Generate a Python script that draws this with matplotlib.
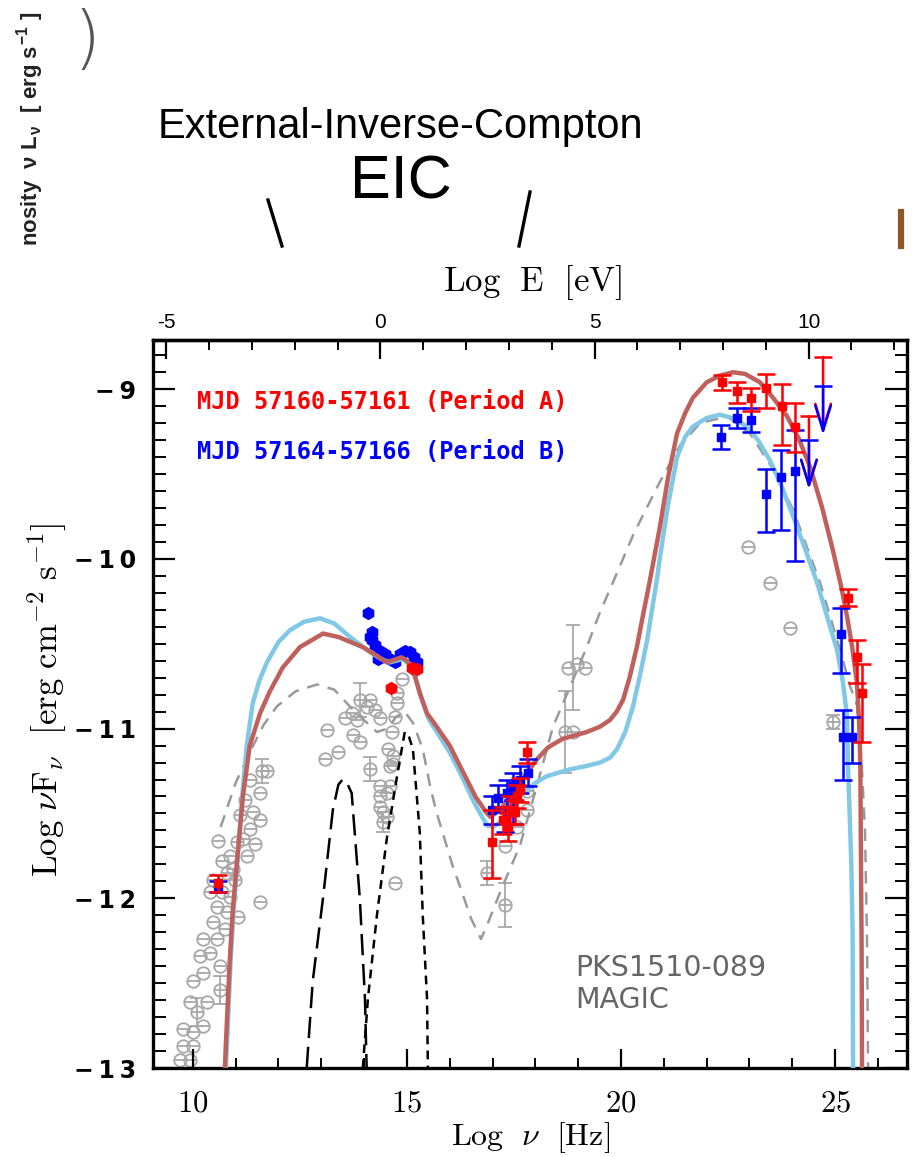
import numpy as np
import matplotlib
matplotlib.use('Agg')
import matplotlib.pyplot as plt
from matplotlib.lines import Line2D
from matplotlib.ticker import MultipleLocator, FixedLocator, FuncFormatter

plt.rcParams['mathtext.fontset'] = 'cm'

# ---------------- data ----------------
# model curves (log nu, log nuFnu)
red_model_x = [10.75, 10.77, 10.86, 10.93, 11.03, 11.17, 11.33, 11.57, 11.8, 12.10, 12.5, 13.04, 13.4, 13.97,
               14.3, 14.53, 14.75, 14.88, 15.0, 15.14, 15.30, 15.47, 15.70, 16.0, 16.24, 16.6, 16.87, 16.95,
               17.2, 17.48, 17.75, 18.04, 18.3, 18.64, 19.2, 19.5, 19.74, 19.9, 20.05, 20.2, 20.37, 20.5,
               20.68, 20.91, 21.1, 21.31, 21.5, 21.68, 22.0, 22.3, 22.62, 22.9, 23.25, 23.55, 23.88, 24.15,
               24.42, 24.7, 24.95, 25.15, 25.28, 25.40, 25.51, 25.56, 25.59, 25.60, 25.62, 25.63]
red_model_y = [-13.0, -12.87, -12.38, -12.08, -11.79, -11.40, -11.10, -10.91, -10.78, -10.64, -10.52, -10.44,
               -10.46, -10.52, -10.57, -10.61, -10.59, -10.58, -10.60, -10.65, -10.79, -10.91, -10.99, -11.10,
               -11.22, -11.40, -11.50, -11.52, -11.47, -11.38, -11.28, -11.18, -11.11, -11.06, -11.02, -10.99,
               -10.95, -10.90, -10.83, -10.70, -10.52, -10.35, -10.12, -9.81, -9.52, -9.26, -9.14, -9.05,
               -8.96, -8.92, -8.90, -8.91, -8.96, -9.05, -9.16, -9.29, -9.46, -9.70, -9.95, -10.17, -10.34,
               -10.52, -10.73, -10.95, -11.2, -11.6, -12.3, -13.0]

blue_model_x = [10.77, 10.80, 10.88, 10.95, 11.05, 11.17, 11.26, 11.40, 11.55, 11.73, 12.0, 12.27, 12.6, 12.97,
                13.3, 13.67, 14.14, 14.4, 14.6, 14.75, 14.9, 15.05, 15.2, 15.35, 15.5, 15.70, 16.0, 16.24, 16.6,
                16.87, 17.0, 17.24, 17.64, 18.0, 18.27, 18.81, 19.2, 19.51, 19.75, 19.91, 20.1, 20.28, 20.45,
                20.61, 20.84, 20.91, 21.1, 21.31, 21.5, 21.68, 22.0, 22.31, 22.6, 22.94, 23.2, 23.48, 23.75,
                24.02, 24.3, 24.58, 24.85, 25.05, 25.18, 25.28, 25.30, 25.33, 25.38, 25.41, 25.42]
blue_model_y = [-13.0, -12.85, -12.38, -12.08, -11.75, -11.35, -11.10, -10.85, -10.72, -10.61, -10.49, -10.42,
                -10.37, -10.35, -10.38, -10.46, -10.55, -10.59, -10.61, -10.60, -10.59, -10.62, -10.70, -10.83,
                -10.94, -11.02, -11.14, -11.26, -11.45, -11.57, -11.58, -11.54, -11.40, -11.32, -11.28, -11.24,
                -11.22, -11.20, -11.17, -11.12, -11.02, -10.87, -10.68, -10.48, -10.12, -9.99, -9.68, -9.40,
                -9.28, -9.22, -9.17, -9.15, -9.17, -9.22, -9.30, -9.42, -9.57, -9.75, -9.94, -10.14, -10.37,
                -10.54, -10.72, -10.93, -11.20, -11.42, -11.8, -12.2, -13.0]

gray_model_x = [10.65, 11.0, 11.33, 11.65, 11.96, 12.4, 12.9, 13.3, 13.67, 14.0, 14.3, 14.55, 14.75, 14.95,
                15.15, 15.37, 15.55, 15.70, 16.07, 16.24, 16.5, 16.73, 16.87, 17.2, 17.64, 18.0, 18.41, 18.8,
                19.2, 19.5, 19.81, 20.3, 20.9, 21.38, 21.85, 22.48, 23.01, 23.55, 24.02, 24.65, 25.12, 25.35,
                25.51, 25.62, 25.70, 25.75, 25.77]
gray_model_y = [-11.58, -11.32, -11.14, -10.98, -10.87, -10.78, -10.74, -10.77, -10.87, -10.95, -11.02, -11.0,
                -10.93, -10.90, -10.97, -11.12, -11.35, -11.50, -11.81, -11.93, -12.12, -12.24, -12.16, -11.95,
                -11.69, -11.37, -10.99, -10.76, -10.52, -10.32, -10.14, -9.85, -9.55, -9.33, -9.20, -9.16,
                -9.26, -9.47, -9.71, -10.14, -10.54, -10.75, -10.86, -11.2, -11.61, -12.3, -13.0]

ext_x = [12.66, 12.8, 13.04, 13.27, 13.40, 13.50, 13.60, 13.71, 13.9, 14.02, 14.06]
ext_y = [-13.0, -12.49, -12.0, -11.48, -11.33, -11.30, -11.32, -11.38, -12.0, -12.59, -13.0]

disk_x = [13.97, 14.09, 14.3, 14.53, 14.77, 14.95, 15.05, 15.14, 15.30, 15.37, 15.47, 15.49]
disk_y = [-13.0, -12.59, -12.10, -11.65, -11.28, -11.02, -11.05, -11.12, -11.61, -12.10, -12.59, -13.0]

# archival (gray) data
arch_x = [10.58, 10.68, 11.57, 11.61, 11.73, 11.33, 11.57, 11.40, 11.57, 11.33, 11.17, 11.03, 11.26, 10.86,
          10.93, 10.79, 10.68, 10.40, 10.86, 10.56, 10.79, 10.47, 11.05, 10.23, 10.56, 10.40, 10.16, 10.63,
          10.23, 10.63, 10.0, 9.93, 10.33, 10.09, 10.23, 9.77, 10.0, 10.0, 9.77, 9.70, 9.93, 11.21, 11.10,
          11.45, 10.98, 10.47, 10.75,
          13.13, 13.08, 13.39, 13.55, 13.71, 13.83, 13.74, 13.90, 13.90, 14.07, 14.14, 14.25, 14.37, 14.14,
          14.37, 14.37, 14.44, 14.53, 14.60, 14.56, 14.72, 14.77, 14.77, 14.88, 14.65, 14.67, 14.60, 14.72,
          14.44, 14.37, 14.53, 14.67,
          18.76, 18.97, 19.16, 18.69, 18.88, 17.80, 17.80, 17.57, 17.29, 16.87, 17.29,
          22.97, 23.48, 23.95, 24.95]
arch_y = [-11.66, -11.78, -12.02, -11.25, -11.25, -11.30, -11.38, -11.49, -11.54, -11.59, -11.65, -11.67,
          -11.75, -11.75, -11.83, -11.85, -11.96, -11.96, -11.99, -12.05, -12.08, -12.14, -12.11, -12.24,
          -12.24, -12.32, -12.34, -12.40, -12.44, -12.54, -12.49, -12.61, -12.61, -12.67, -12.75, -12.77,
          -12.79, -12.87, -12.87, -12.95, -12.95, -11.42, -11.51, -11.68, -11.89, -11.89, -12.18,
          -11.01, -11.18, -11.14, -10.94, -10.91, -10.95, -11.04, -11.08, -10.83, -10.87, -10.83, -10.89,
          -10.94, -11.24, -11.34, -11.46, -11.49, -11.38, -11.22, -11.12, -10.93, -10.85, -10.79, -10.71,
          -11.02, -11.16, -11.34, -11.91, -11.55, -11.40, -11.52, -11.21,
          -10.64, -10.62, -10.64, -11.02, -11.02, -11.37, -11.48, -11.58, -11.69, -11.85, -12.04,
          -9.93, -10.14, -10.41, -10.96]
arch_eb_x = [11.61, 10.63, 10.09, 13.90, 14.14, 14.44, 18.88, 18.69, 16.87, 17.29, 24.95]
arch_eb_y = [-11.25, -12.54, -12.67, -10.83, -11.24, -11.55, -10.64, -11.02, -11.85, -12.04, -10.96]
arch_eb_err = [0.07, 0.08, 0.08, 0.10, 0.07, 0.06, 0.25, 0.24, 0.07, 0.13, 0.04]

# Period A (red)
redA_x = [10.58, 16.99, 17.80, 17.24, 17.41, 17.57, 17.64, 17.36, 17.52,
          22.36, 22.71, 23.04, 23.39, 23.76, 24.07, 25.30, 25.51, 25.63]
redA_y = [-11.91, -11.67, -11.14, -11.54, -11.48, -11.40, -11.36, -11.58, -11.49,
          -8.96, -9.01, -9.05, -8.99, -9.10, -9.22, -10.23, -10.58, -10.79]
redA_lo = [0.05, 0.21, 0.06, 0.08, 0.08, 0.07, 0.07, 0.08, 0.07,
           0.045, 0.07, 0.08, 0.12, 0.23, 0.15, 0.05, 0.15, 0.29]
redA_hi = [0.05, 0.19, 0.06, 0.08, 0.08, 0.07, 0.07, 0.08, 0.07,
           0.045, 0.05, 0.06, 0.08, 0.13, 0.14, 0.05, 0.10, 0.17]
redA_opt_x = [14.63, 15.12, 15.23]
redA_opt_y = [-10.76, -10.64, -10.65]
redA_ul_x = [24.72, 24.39]
redA_ul_y = [-8.81, -9.16]
redA_ul_len = [0.45, 0.43]

# Period B (blue)
bluB_x = [10.58, 16.99, 17.13, 17.34, 17.48, 17.64, 17.83, 17.48, 17.29,
          22.34, 22.71, 23.04, 23.39, 23.74, 24.07, 25.14, 25.19, 25.40]
bluB_y = [-11.93, -11.48, -11.41, -11.38, -11.34, -11.30, -11.26, -11.49, -11.54,
          -9.28, -9.17, -9.18, -9.62, -9.52, -9.48, -10.44, -11.05, -11.05]
bluB_lo = [0.03, 0.08, 0.08, 0.08, 0.08, 0.08, 0.08, 0.07, 0.07,
           0.07, 0.06, 0.07, 0.22, 0.31, 0.53, 0.23, 0.25, 0.15]
bluB_hi = [0.03, 0.08, 0.08, 0.08, 0.08, 0.08, 0.08, 0.07, 0.07,
           0.07, 0.06, 0.07, 0.15, 0.16, 0.24, 0.15, 0.16, 0.12]
bluB_opt_x = [14.09, 14.14, 14.18, 14.25, 14.37, 14.49, 14.60, 14.72, 14.84, 14.95, 15.07, 15.16, 15.23,
              14.18, 14.32]
bluB_opt_y = [-10.32, -10.46, -10.48, -10.51, -10.54, -10.56, -10.59, -10.61, -10.56, -10.54, -10.55,
              -10.58, -10.61, -10.43, -10.59]
bluB_ul_x = [24.72, 24.39]
bluB_ul_y = [-8.98, -9.30]
bluB_ul_len = [0.29, 0.29]

yticks_main = [-13, -12, -11, -10, -9]
xticks_main = [10, 15, 20, 25]
eticks = [-5, 0, 5, 10]
LOG_H_EV = 14.383  # log nu [Hz] - log E [eV]

legend_A = "MJD 57160-57161 (Period A)"
legend_B = "MJD 57164-57166 (Period B)"

# ---------------- figure ----------------
W, H = 919, 1157
fig = plt.figure(figsize=(W / 100, H / 100), dpi=100)


def fx(px):
    return px / W


def fy(py):
    return 1 - py / H


ax = fig.add_axes([fx(153), fy(1068), (907 - 153) / W, (1068 - 340) / H])
ax.set_xlim(9.07, 26.68)
ax.set_ylim(-13.0, -8.71)

GRAY = '#a8a8a8'
RED_M = '#c0605c'
BLUE_M = '#80c8e6'

# archival data
ax.errorbar(arch_eb_x, arch_eb_y, yerr=arch_eb_err, fmt='none', ecolor=GRAY, elinewidth=1.3,
            capsize=5, capthick=1.3, zorder=1)
ax.plot(arch_x, arch_y, 'o', ms=9, mfc='none', mec=GRAY, mew=1.3, zorder=1)
ax.plot(arch_x, arch_y, '_', ms=9, mec=GRAY, mew=1.3, zorder=1)

# model components
ax.plot(gray_model_x, gray_model_y, color='#9a9a9a', lw=1.8, ls=(0, (5, 3.5)), zorder=2)
ax.plot(ext_x, ext_y, color='k', lw=1.8, ls=(0, (8.5, 3.5)), zorder=2)
ax.plot(disk_x, disk_y, color='k', lw=1.8, ls=(0, (3.5, 2.5)), zorder=2)

# optical blue points (under the curves)
ax.plot(bluB_opt_x, bluB_opt_y, 'h', ms=8.5, color='#0000ff', zorder=2.5)

ax.plot(blue_model_x, blue_model_y, color=BLUE_M, lw=3.2, zorder=3, solid_capstyle='butt')
ax.plot(red_model_x, red_model_y, color=RED_M, lw=3.2, zorder=3.1, solid_capstyle='butt')

# period data
ax.errorbar(bluB_x, bluB_y, yerr=[bluB_lo, bluB_hi], fmt='s', ms=6, color='#0000ff', ecolor='#0000ff',
            elinewidth=1.8, capsize=6.5, capthick=1.8, zorder=4)
ax.errorbar(redA_x, redA_y, yerr=[redA_lo, redA_hi], fmt='s', ms=6, color='#ff0000', ecolor='#ff0000',
            elinewidth=1.8, capsize=6.5, capthick=1.8, zorder=4.1)
ax.plot(redA_opt_x, redA_opt_y, 'h', ms=8.5, color='#ff0000', zorder=4)

for xs, ys, ls_, col in [(redA_ul_x, redA_ul_y, redA_ul_len, '#ff0000'),
                         (bluB_ul_x, bluB_ul_y, bluB_ul_len, '#0000ff')]:
    ax.plot(xs, ys, '_', ms=13, mew=1.8, color=col, zorder=4)
    for x0, y0, L in zip(xs, ys, ls_):
        ax.annotate('', xy=(x0, y0 - L), xytext=(x0, y0),
                    arrowprops=dict(arrowstyle='->,head_length=1.3,head_width=0.4', mutation_scale=14,
                                    lw=1.8, color=col, shrinkA=0, shrinkB=0), zorder=4)

# ticks
ax.set_xticks(xticks_main)
ax.xaxis.set_minor_locator(MultipleLocator(1))
ax.set_yticks(yticks_main)
ax.yaxis.set_minor_locator(MultipleLocator(0.1))
ax.tick_params(axis='y', which='major', direction='in', length=16, width=1.6, right=True, left=True, pad=12)
ax.tick_params(axis='y', which='minor', direction='in', length=9, width=1.4, right=True, left=True)
ax.tick_params(axis='x', which='major', direction='in', length=14, width=1.6, top=False, bottom=True, pad=15)
ax.tick_params(axis='x', which='minor', direction='in', length=7, width=1.4, top=False, bottom=True)
for s in ax.spines.values():
    s.set_linewidth(2.4)

ax.yaxis.set_major_formatter(FuncFormatter(
    lambda v, p: '\u2212\u2009' + '\u2009'.join(str(abs(int(round(v)))))))
ax.xaxis.set_major_formatter(FuncFormatter(lambda v, p: r'$\mathrm{%d}$' % int(round(v))))
for lab in ax.get_yticklabels():
    lab.set_fontfamily('DejaVu Sans')
    lab.set_fontweight('bold')
    lab.set_fontsize(17)
for lab in ax.get_xticklabels():
    lab.set_fontsize(22)

sec = ax.secondary_xaxis('top', functions=(lambda x: x - LOG_H_EV, lambda e: e + LOG_H_EV))
sec.set_xticks(eticks)
sec.xaxis.set_minor_locator(MultipleLocator(1))
sec.tick_params(which='major', direction='in', length=14, width=1.6, pad=6, labelsize=15)
sec.tick_params(which='minor', direction='in', length=7, width=1.4)
sec.xaxis.set_major_formatter(FuncFormatter(lambda v, p: '%d' % int(round(v))))
for lab in sec.get_xticklabels():
    lab.set_fontfamily('Liberation Sans')
sec.spines['top'].set_linewidth(2.4)

# axis labels
fig.text(fx(531), fy(1138), r'$\mathrm{Log}\ \ \nu\ \ \mathrm{[Hz]}$', ha='center', va='center', fontsize=23)
fig.text(fx(533), fy(283), r'$\mathrm{Log\ \ E\ \ [eV]}$', ha='center', va='center', fontsize=25)
fig.text(fx(47), fy(700), r'$\mathrm{Log}\ \nu \mathrm{F}_\nu\ \ \mathrm{[erg\ cm^{-2}\ s^{-1}]}$',
         ha='center', va='center', rotation=90, fontsize=25)

# legend texts
fig.text(fx(197), fy(402), legend_A, color='#ff0000', fontsize=17, family='DejaVu Sans Mono',
         weight='bold', ha='left', va='center')
fig.text(fx(197), fy(452), legend_B, color='#0000ff', fontsize=17, family='DejaVu Sans Mono',
         weight='bold', ha='left', va='center')

fig.text(fx(575), fy(968), 'PKS1510-089', color='#666666', fontsize=20.5, family='DejaVu Sans',
         ha='left', va='center')
fig.text(fx(575), fy(1000), 'MAGIC', color='#666666', fontsize=20.5, family='DejaVu Sans',
         ha='left', va='center')

# ---- cropped fragment of another figure at the top ----
fig.text(fx(400), fy(127), 'External-Inverse-Compton', ha='center', va='center', fontsize=30,
         family='Liberation Sans')
fig.text(fx(401), fy(183), 'EIC', ha='center', va='center', fontsize=44, family='Liberation Sans')
fig.text(fx(31), fy(246), r'nosity  ν L$_\mathregular{ν}$  [ erg s$^\mathregular{-1}$ ]', rotation=90,
         ha='center', va='bottom', fontsize=16, weight='bold', family='Liberation Sans', color='#222222')
fig.text(fx(87), fy(42), ')', ha='center', va='center', fontsize=50, color='#555555',
         family='DejaVu Sans', weight='light')
fig.add_artist(Line2D([fx(268), fx(282)], [fy(200), fy(246)], color='k', lw=2.4))
fig.add_artist(Line2D([fx(530), fx(519)], [fy(192), fy(246)], color='k', lw=2.4))
fig.add_artist(Line2D([fx(901), fx(901)], [fy(212), fy(246)], color='#8a5a25', lw=4.5))

fig.savefig('out.png', dpi=100)
